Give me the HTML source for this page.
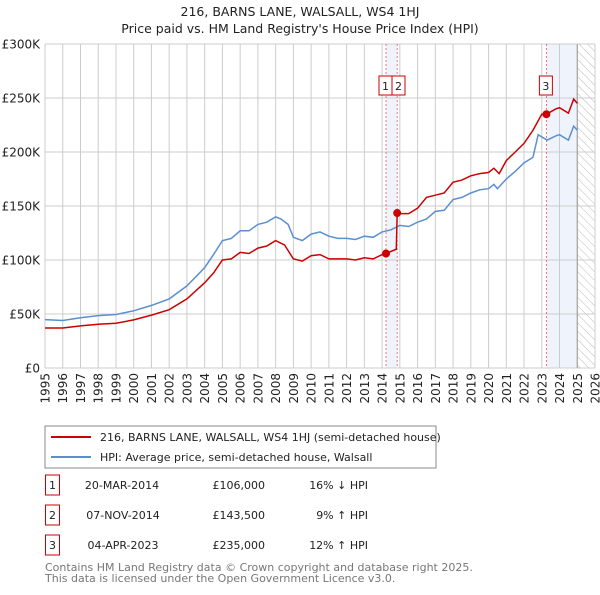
<!DOCTYPE html>
<html><head><meta charset="utf-8"><style>
body{margin:0;background:#fff;font-family:"Liberation Sans","DejaVu Sans",sans-serif;}
svg text{font-family:"DejaVu Sans","Liberation Sans",sans-serif;}
</style></head><body>
<svg id="c" width="600" height="590" xmlns="http://www.w3.org/2000/svg">
<text x="300" y="16" text-anchor="middle" font-size="12.5" fill="#222">216, BARNS LANE, WALSALL, WS4 1HJ</text>
<text x="300" y="33" text-anchor="middle" font-size="12.5" fill="#222">Price paid vs. HM Land Registry's House Price Index (HPI)</text>
<defs><pattern id="hatch" width="6" height="6" patternUnits="userSpaceOnUse" patternTransform="rotate(-45)"><line x1="0" y1="0" x2="0" y2="6" stroke="#bbb" stroke-width="1"/></pattern></defs>
<g id="grid"></g><g id="marks"></g>
<rect x="45" y="426" width="391" height="42" fill="#fff" stroke="#888"/>
<line x1="51" y1="437" x2="91" y2="437" stroke="#cc0000" stroke-width="2"/>
<text x="100" y="441" font-size="11" fill="#222">216, BARNS LANE, WALSALL, WS4 1HJ (semi-detached house)</text>
<line x1="51" y1="457" x2="91" y2="457" stroke="#5b8fd0" stroke-width="2"/>
<text x="100" y="461" font-size="11" fill="#222">HPI: Average price, semi-detached house, Walsall</text>
<g font-size="11" fill="#222">
<rect x="45.5" y="475" width="14" height="20" fill="none" stroke="#cc0000"/><text x="52.5" y="489" text-anchor="middle">1</text>
<text x="122" y="489" text-anchor="middle">20-MAR-2014</text><text x="265" y="489" text-anchor="end">£106,000</text><text x="368" y="489" text-anchor="end">16% ↓ HPI</text>
<rect x="45.5" y="505" width="14" height="20" fill="none" stroke="#cc0000"/><text x="52.5" y="519" text-anchor="middle">2</text>
<text x="123" y="519" text-anchor="middle">07-NOV-2014</text><text x="265" y="519" text-anchor="end">£143,500</text><text x="368" y="519" text-anchor="end">9% ↑ HPI</text>
<rect x="45.5" y="535" width="14" height="20" fill="none" stroke="#cc0000"/><text x="52.5" y="549" text-anchor="middle">3</text>
<text x="123" y="549" text-anchor="middle">04-APR-2023</text><text x="265" y="549" text-anchor="end">£235,000</text><text x="368" y="549" text-anchor="end">12% ↑ HPI</text>
</g>
<text x="45" y="571" font-size="11" fill="#777">Contains HM Land Registry data © Crown copyright and database right 2025.</text>
<text x="45" y="582" font-size="11" fill="#777">This data is licensed under the Open Government Licence v3.0.</text>
</svg>
<script>
const hpiYears=[1995,1996,1997,1998,1999,2000,2001,2002,2003,2004,2004.5,2005,2005.5,2006,2006.5,2007,2007.5,2008,2008.3,2008.7,2009,2009.5,2010,2010.5,2011,2011.5,2012,2012.5,2013,2013.5,2014,2014.5,2015,2015.5,2016,2016.5,2017,2017.5,2018,2018.5,2019,2019.5,2020,2020.3,2020.5,2021,2021.5,2022,2022.5,2022.8,2023.3,2023.8,2024,2024.5,2024.8,2025];
const hpiValues=[44800,44000,46500,48500,49500,53000,58000,64000,76000,93000,105000,118000,120000,127000,127000,133000,135000,140000,138000,133000,121000,118000,124000,126000,122000,120000,120000,119000,122000,121000,126000,128000,132000,131000,135000,138000,145000,146000,156000,158000,162000,165000,166000,170000,166000,175000,182000,190000,195000,216000,211000,215000,216000,211000,224000,220000];
const priceYears=[1995,1996,1997,1998,1999,2000,2001,2002,2003,2004,2004.5,2005,2005.5,2006,2006.5,2007,2007.5,2008,2008.5,2009,2009.5,2010,2010.5,2011,2011.5,2012,2012.5,2013,2013.5,2014,2014.22,2014.8,2014.85,2015,2015.5,2016,2016.5,2017,2017.5,2018,2018.5,2019,2019.5,2020,2020.3,2020.6,2021,2021.5,2022,2022.5,2023,2023.26,2023.8,2024,2024.5,2024.8,2025];
const priceValues=[37000,37000,39000,40500,41500,44500,49000,54000,64000,79000,88000,100000,101000,107000,106000,111000,113000,118000,114000,101000,99000,104000,105000,101000,101000,101000,100000,102000,101000,105000,106000,110000,143500,143000,143000,148000,158000,160000,162000,172000,174000,178000,180000,181000,185000,180000,192000,200000,208000,220000,235000,235000,240000,241000,236000,249000,245000];
const saleDates=[2014.22,2014.85,2023.26];
const salePrices=[106000,143500,235000];
const saleLabels=["1","2","3"];
const yTicks=[0,50000,100000,150000,200000,250000,300000];
const yTickLabels=["£0","£50K","£100K","£150K","£200K","£250K","£300K"];
const xStart=1995,xEnd=2026,dataEnd=2025;
const NS="http://www.w3.org/2000/svg";
const X=y=>45+(y-xStart)/(xEnd-xStart)*550;
const Y=v=>368-v/300000*324;
function el(t,a,p){const e=document.createElementNS(NS,t);for(const k in a)e.setAttribute(k,a[k]);p.appendChild(e);return e;}
const g=document.getElementById('grid'),m=document.getElementById('marks');
// shading
const s1=el('rect',{x:X(saleDates[0]),y:44,width:X(saleDates[1])-X(saleDates[0]),height:324,fill:'#eef3fc'},g);


const s2=el('rect',{x:X(saleDates[2]),y:44,width:X(dataEnd)-X(saleDates[2]),height:324,fill:'#eef3fc'},g);


const h=el('rect',{x:X(dataEnd),y:44,width:X(xEnd)-X(dataEnd),height:324,fill:'url(#hatch)'},g);


for(let yr=xStart;yr<=xEnd;yr++){
  el('line',{x1:X(yr),x2:X(yr),y1:44,y2:368,stroke:'#ccc','stroke-width':1},g);
  const t=el('text',{x:0,y:0,transform:`translate(${X(yr)+4.5},373) rotate(-90)`,'text-anchor':'end','font-size':12,fill:'#222'},g);
  t.textContent=yr;
  
  
}
yTicks.forEach((v,i)=>{
  el('line',{x1:45,x2:595,y1:Y(v),y2:Y(v),stroke:'#ccc','stroke-width':1},g);
  const t=el('text',{x:40,y:Y(v)+4.5,'text-anchor':'end','font-size':12,fill:'#222'},g);
  t.textContent=yTickLabels[i];
  
  
});
el('line',{x1:X(dataEnd),x2:X(dataEnd),y1:44,y2:368,stroke:'#999','stroke-width':1},g);
saleDates.forEach((d,i)=>{
  el('line',{x1:X(d),x2:X(d),y1:44,y2:368,stroke:'#e55','stroke-width':0.8,'stroke-dasharray':'2,2'},g);
});
function path(xs,vs,c,name){
  const p=el('path',{d:xs.map((x,i)=>(i?'L':'M')+X(x).toFixed(1)+','+Y(vs[i]).toFixed(1)).join(''),fill:'none',stroke:c,'stroke-width':1.5},m);
  
  
}
path(hpiYears,hpiValues,'#5b8fd0','hpi-line');
path(priceYears,priceValues,'#cc0000','price-line');
saleDates.forEach((d,i)=>{
  const c=el('circle',{cx:X(d),cy:Y(salePrices[i]),r:4,fill:'#cc0000'},m);
  
  
});
// labels boxes
const boxX=[X(saleDates[0])-13,X(saleDates[1])-1,X(saleDates[2])-7];
saleLabels.forEach((l,i)=>{
  const bx=(i===0)?X(saleDates[0])-7:(i===1?X(saleDates[0])+6:X(saleDates[2])-7);
  const r=el('rect',{x:bx,y:76,width:13,height:19,fill:'#fff',stroke:'#cc0000'},m);
  
  
  const t=el('text',{x:bx+6.5,y:90,'text-anchor':'middle','font-size':11,fill:'#222'},m);
  t.textContent=l;
});
</script>
</body></html>
